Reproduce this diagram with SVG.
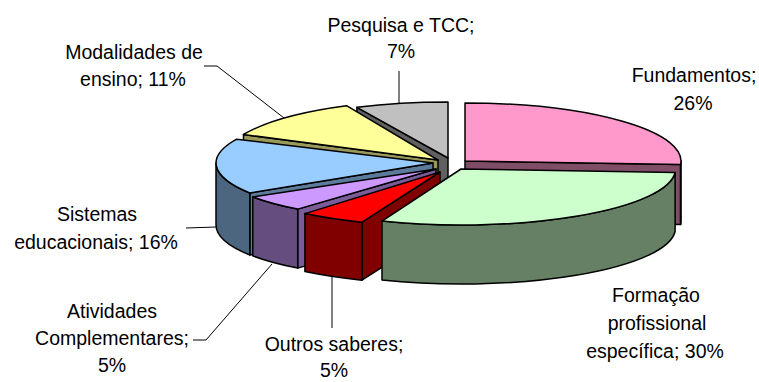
<svg xmlns="http://www.w3.org/2000/svg" width="759" height="382" viewBox="0 0 759 382">
<style>
.f{stroke:#000;stroke-width:1.5;stroke-linejoin:round}
.t{font-family:"Liberation Sans",Arial,sans-serif;font-size:19.5px;fill:#000;text-anchor:middle}
.l{fill:none;stroke:#000;stroke-width:1}
</style>
<rect width="759" height="382" fill="#fff"/>
<g id="slice-pesquisa">
<path class="f" fill="#606060" d="M448,158 L356.9,107.3 L356.9,165.3 L448,216 Z"/>
<path class="f" fill="#C0C0C0" d="M448,158 L356.9,107.3 A214,56 0 0 1 448,102 Z"/>
<text class="t" x="401" y="32">Pesquisa e TCC;</text>
<text class="t" x="401" y="58">7%</text>
</g>
<g id="slice-fundamentos">
<path class="f" fill="#804D66" d="M465,161 L680.6,164.6 L680.6,224.6 L465,221 Z"/>
<path class="f" fill="#804D66" d="M681,161 A216,58 0 0 1 680.6,164.6 L680.6,224.6 A216,58 0 0 0 681,221 Z"/>
<path class="f" fill="#FF99CC" d="M465,161 L465,103 A216,58 0 0 1 680.6,164.6 Z"/>
<text class="t" x="694" y="82">Fundamentos;</text>
<text class="t" x="693" y="110">26%</text>
</g>
<g id="slice-modalidades">
<path class="f" fill="#99995C" d="M438,160 L243.5,134.5 L243.5,192.5 L438,218 Z"/>
<path class="f" fill="#FFFF99" d="M438,160 L243.5,134.5 A215,60 0 0 1 346.5,105.7 Z"/>
<text class="t" x="134" y="59">Modalidades de</text>
<text class="t" x="133" y="86">ensino; 11%</text>
</g>
<g id="slice-sistemas">
<path class="f" fill="#5C7A99" d="M433,163 L249.8,193 L249.8,255 L433,225 Z"/>
<path class="f" fill="#4D6680" d="M249.8,193 A217,56 0 0 1 216,163 L216,225 A217,56 0 0 0 249.8,255 Z"/>
<path class="f" fill="#99CCFF" d="M433,163 L249.8,193 A217,56 0 0 1 236.7,139.2 Z"/>
<text class="t" x="97" y="221">Sistemas</text>
<text class="t" x="96" y="249">educacionais; 16%</text>
</g>
<g id="slice-atividades">
<path class="f" fill="#7A5C99" d="M436,169 L297.7,209.1 L297.7,268.1 L436,228 Z"/>
<path class="f" fill="#664D80" d="M297.7,209.1 A217,52 0 0 1 252.8,196.9 L252.8,255.9 A217,52 0 0 0 297.7,268.1 Z"/>
<path class="f" fill="#CC99FF" d="M436,169 L297.7,209.1 A217,52 0 0 1 252.8,196.9 Z"/>
<text class="t" x="112" y="318">Atividades</text>
<text class="t" x="112" y="345">Complementares;</text>
<text class="t" x="112" y="372">5%</text>
</g>
<g id="slice-outros">
<path class="f" fill="#800000" d="M440,172 L362,222.2 L362,280.2 L440,230 Z"/>
<path class="f" fill="#800000" d="M362,222.2 A212,54 0 0 1 304.9,213.6 L304.9,271.6 A212,54 0 0 0 362,280.2 Z"/>
<path class="f" fill="#FF0000" d="M440,172 L362,222.2 A212,54 0 0 1 304.9,213.6 Z"/>
<text class="t" x="334" y="351">Outros saberes;</text>
<text class="t" x="334" y="377">5%</text>
</g>
<g id="slice-formacao">
<path class="f" fill="#668066" d="M675.1,172.5 A214.5,56 0 0 1 382,221.1 L382,280.1 A214.5,56 0 0 0 675.1,231.5 Z"/>
<path class="f" fill="#CCFFCC" d="M461,169 L675.1,172.5 A214.5,56 0 0 1 382,221.1 Z"/>
<text class="t" x="656" y="302">Formação</text>
<text class="t" x="657" y="330">profissional</text>
<text class="t" x="655" y="358">específica; 30%</text>
</g>
<g id="connectors">
<path class="l" d="M399,71 L399,103"/>
<path class="l" d="M204,66 L217,66 L284,118"/>
<path class="l" d="M186,228 L216,227"/>
<path class="l" d="M193,340 L206,340 L272,264"/>
<path class="l" d="M332,277 L332,328"/>
</g>
</svg>
